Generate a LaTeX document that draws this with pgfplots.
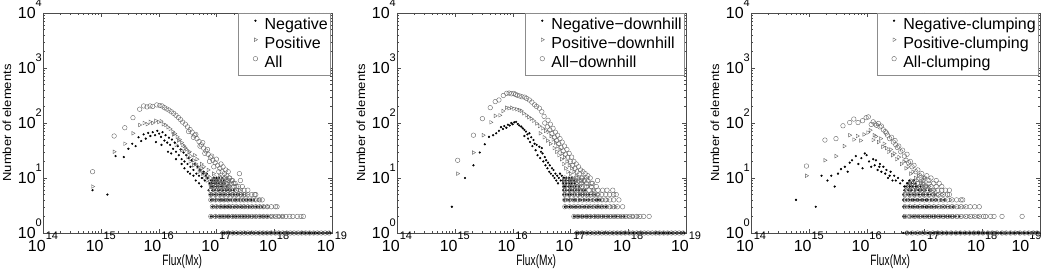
\documentclass[border=0pt]{standalone}
\usepackage{fontspec}
\setmainfont{Liberation Sans}
\usepackage{graphicx}
\usepackage{pgfplots}
\pgfplotsset{compat=1.18}
\newcommand\pw[1]{{\fontsize{16}{16}\selectfont 10\raisebox{0.72em}{\fontsize{11}{11}\selectfont #1}}}
\newcommand\xl{\scalebox{0.68}[1]{\fontsize{15}{15}\selectfont Flux(Mx)}}
\newcommand\yl{\scalebox{1}[0.9]{\fontsize{13}{13}\selectfont Number of elements}}
\newcommand\lidot{\path (0pt,0pt) (24pt,0pt); \draw[black, only marks, mark=*, mark size=0.9pt] plot coordinates {(15pt,4.5pt)};}
\newcommand\litri{\path (0pt,0pt) (24pt,0pt); \draw[black!60, only marks, mark=triangle, mark size=2.1pt, mark options={rotate=-90, line width=0.4pt}] plot coordinates {(15pt,4.5pt)};}
\newcommand\licirc{\path (0pt,0pt) (24pt,0pt); \draw[black!60, only marks, mark=o, mark size=2.3pt, mark options={line width=0.4pt}] plot coordinates {(15pt,4.5pt)};}
\begin{document}
\begin{tikzpicture}
\path[use as bounding box] (-43pt,-39pt) rectangle (1014pt,233pt);
% ---------------- Panel 1 ----------------
\begin{axis}[at={(0pt,0pt)},
    xmode=log, ymode=log, scale only axis, width=289pt, height=220pt,
    xmin=1e14, xmax=1e19, ymin=1, ymax=1e4,
    xtick={1e14,1e15,1e16,1e17,1e18,1e19},
    xticklabels={\pw{14},\pw{15},\pw{16},\pw{17},\pw{18},\pw{19}},
    ytick={1,10,100,1000,10000},
    yticklabels={\pw{0},\pw{1},\pw{2},\pw{3},\pw{4}},
    tick align=inside, major tick length=4pt, minor tick length=2pt,
    axis line style={black!70}, tick style={black!70},
    xticklabel style={inner sep=0pt, yshift=1pt},
    yticklabel style={inner xsep=1pt, inner ysep=0pt, yshift=4pt},
    xlabel={\xl}, ylabel={\yl},
    xlabel style={at={(axis description cs:0.482,-0.132)}, anchor=center},
    ylabel style={at={(axis description cs:-0.125,0.5)}, anchor=center},
    legend cell align=left,
    legend style={at={(0.993,1)}, anchor=north east,
      draw=black!45, fill=white, font=\fontsize{16}{16}\selectfont,
      inner xsep=2pt, inner ysep=4pt, row sep=3pt,
      nodes={inner xsep=0pt, inner ysep=0pt, text height=12.5pt, text depth=3.5pt}},
    legend entries={Negative,Positive,All}]
\addplot[only marks, mark=*, mark size=0.9pt, black, legend image code/.code={\lidot}] coordinates {
(7.2e14,6) (1.3e15,5) (1.8e15,25) (2.5e15,24) (3.0e15,34) (3.5e15,42) (4.0e15,38) (4.5e15,55) (5.0e15,47) (5.5e15,62) (6.0e15,52) (6.6e15,66) (7.2e15,58) (7.9e15,68) (8.7e15,60) (9.5e15,72) (1.02e16,64) (1.1e16,56) (1.17e16,68) (1.26e16,48) (1.32e16,60) (1.41e16,44) (1.51e16,54) (1.58e16,40) (1.7e16,50) (1.78e16,34) (1.9e16,44) (2.0e16,30) (2.14e16,38) (2.24e16,26) (2.4e16,33) (2.5e16,22) (2.7e16,29) (2.8e16,20) (3.0e16,26) (3.16e16,18) (3.3e16,23) (3.55e16,16) (3.7e16,21) (4.0e16,14) (4.2e16,18) (4.5e16,12) (4.7e16,16) (5.0e16,11) (5.2e16,14) (5.6e16,10) (5.9e16,12) (6.3e16,9) (6.6e16,11) (7.1e16,10) (7.6e16,8) (8.1e16,9) (8.7e16,7)
(9.0e15,45) (1.12e16,40) (1.45e16,30) (1.65e16,28) (2.0e16,22) (2.5e16,18) (2.8e16,15) (3.2e16,13) (3.5e16,12) (4.0e16,11) (4.4e16,9) (5.0e16,8) (5.5e16,7) (6.0e16,13) (6.8e16,12) (7.3e16,6)
(9.1e16,10) (1.0e17,10) (1.12e17,10) (1.26e17,10)
(8.5e16,9) (9.5e16,9) (1.05e17,9) (1.2e17,9) (1.35e17,9)
(8.3e16,8) (9.2e16,8) (1.0e17,8) (1.1e17,8) (1.25e17,8) (1.4e17,8)
(8.0e16,7) (9.0e16,7) (1.0e17,7) (1.1e17,7) (1.2e17,7) (1.3e17,7) (1.5e17,7)
(8.5e16,6) (9.5e16,6) (1.05e17,6) (1.15e17,6) (1.3e17,6) (1.45e17,6) (1.6e17,6) (1.8e17,6) (2.0e17,6)
(7.8e16,5) (8.6e16,5) (9.5e16,5) (1.05e17,5) (1.15e17,5) (1.25e17,5) (1.35e17,5) (1.5e17,5) (1.65e17,5) (1.8e17,5) (2.0e17,5) (2.2e17,5) (2.5e17,5) (2.9e17,5)
(8.0e16,4) (8.8e16,4) (9.6e16,4) (1.05e17,4) (1.15e17,4) (1.25e17,4) (1.35e17,4) (1.5e17,4) (1.65e17,4) (1.8e17,4) (2.0e17,4) (2.2e17,4) (2.5e17,4) (2.8e17,4) (3.1e17,4) (3.5e17,4) (4.0e17,4) (4.5e17,4)
(8.5e16,3) (9.3e16,3) (1.0e17,3) (1.1e17,3) (1.2e17,3) (1.3e17,3) (1.4e17,3) (1.5e17,3) (1.6e17,3) (1.7e17,3) (1.8e17,3) (2.0e17,3) (2.2e17,3) (2.4e17,3) (2.6e17,3) (2.8e17,3) (3.0e17,3) (3.3e17,3) (3.6e17,3) (4.0e17,3) (4.4e17,3) (4.9e17,3) (5.5e17,3) (6.2e17,3)
(8.0e16,2) (8.8e16,2) (9.6e16,2) (1.05e17,2) (1.15e17,2) (1.25e17,2) (1.35e17,2) (1.45e17,2) (1.55e17,2) (1.65e17,2) (1.75e17,2) (1.9e17,2) (2.05e17,2) (2.2e17,2) (2.4e17,2) (2.6e17,2) (2.8e17,2) (3.0e17,2) (3.3e17,2) (3.6e17,2) (3.9e17,2) (4.3e17,2) (4.7e17,2) (5.2e17,2) (5.7e17,2) (6.3e17,2) (7.0e17,2) (7.7e17,2)
(1.3e17,1) (1.35e17,1) (1.4e17,1) (1.45e17,1) (1.5e17,1) (1.6e17,1) (1.7e17,1) (1.8e17,1) (1.9e17,1) (2.0e17,1) (2.1e17,1) (2.2e17,1) (2.3e17,1) (2.4e17,1) (2.5e17,1) (2.6e17,1) (2.8e17,1) (3.0e17,1) (3.2e17,1) (3.4e17,1) (3.6e17,1) (3.8e17,1) (4.0e17,1) (4.2e17,1) (4.4e17,1) (4.7e17,1) (5.0e17,1) (5.3e17,1) (5.6e17,1) (6.0e17,1) (6.3e17,1) (6.7e17,1) (7.1e17,1) (7.5e17,1) (8.0e17,1) (8.5e17,1) (9.0e17,1) (9.5e17,1) (1.0e18,1) (1.05e18,1) (1.1e18,1) (1.15e18,1) (1.2e18,1) (1.25e18,1) (1.3e18,1) (1.4e18,1) (1.5e18,1) (1.6e18,1) (1.7e18,1) (1.8e18,1) (1.9e18,1) (2.0e18,1) (2.1e18,1) (2.2e18,1) (2.4e18,1) (2.6e18,1) (2.8e18,1) (3.0e18,1) (3.2e18,1) (3.4e18,1) (3.6e18,1) (3.8e18,1) (4.0e18,1) (4.2e18,1) (4.4e18,1) (4.7e18,1) (5.0e18,1) (5.3e18,1) (5.6e18,1) (6.0e18,1) (6.3e18,1) (6.7e18,1) (7.1e18,1) (7.5e18,1) (8.0e18,1) (8.5e18,1) (9.0e18,1) (9.5e18,1)
};
\addplot[only marks, mark=triangle, mark size=2.1pt, black!60, mark options={rotate=-90, line width=0.4pt}, legend image code/.code={\litri}] coordinates {
(7.2e14,7) (1.7e15,30) (2.6e15,42) (3.6e15,65) (4.7e15,92) (5.6e15,100) (6.3e15,95) (7.1e15,105) (7.9e15,100) (8.9e15,110) (1.0e16,104) (1.1e16,108) (1.2e16,95) (1.32e16,92) (1.45e16,84) (1.58e16,78) (1.74e16,70) (1.9e16,64) (2.1e16,56) (2.3e16,50) (2.5e16,44) (2.75e16,38) (3.0e16,33) (3.3e16,29) (3.6e16,25) (4.0e16,21) (4.4e16,18) (4.8e16,16) (5.2e16,14) (5.8e16,12) (6.3e16,10) (6.9e16,9) (7.6e16,8) (8.3e16,7)
(2.0e16,40) (2.5e16,32) (3.2e16,24) (3.5e16,20) (4.0e16,17) (5.0e16,13) (5.6e16,15) (6.3e16,12) (7.0e16,11) (8.0e16,10) (8.9e16,12) (1.0e17,9) (1.12e17,11) (1.26e17,8) (1.4e17,10) (1.6e17,7)
(1.8e16,62) (2.2e16,48) (2.6e16,40) (2.9e16,35) (3.4e16,30) (4.2e16,26) (4.6e16,22) (5.5e16,18) (6.0e16,16) (7.2e16,14)
(9.0e16,9) (1.1e17,9) (1.3e17,9) (1.5e17,9)
(9.5e16,8) (1.15e17,8) (1.35e17,8) (1.6e17,8)
(8.5e16,7) (1.05e17,7) (1.25e17,7) (1.45e17,7) (1.7e17,7)
(9.0e16,6) (1.1e17,6) (1.3e17,6) (1.5e17,6) (1.75e17,6) (2.1e17,6) (2.5e17,6)
(8.2e16,5) (1.0e17,5) (1.2e17,5) (1.4e17,5) (1.7e17,5) (2.0e17,5) (2.4e17,5) (2.8e17,5) (3.3e17,5)
(8.4e16,4) (1.0e17,4) (1.2e17,4) (1.4e17,4) (1.6e17,4) (1.9e17,4) (2.2e17,4) (2.6e17,4) (3.0e17,4) (3.5e17,4) (4.1e17,4) (4.8e17,4) (5.5e17,4)
(9.0e16,3) (1.05e17,3) (1.2e17,3) (1.4e17,3) (1.6e17,3) (1.8e17,3) (2.1e17,3) (2.4e17,3) (2.8e17,3) (3.2e17,3) (3.7e17,3) (4.3e17,3) (5.0e17,3) (5.8e17,3) (6.7e17,3) (7.8e17,3)
(8.4e16,2) (1.0e17,2) (1.15e17,2) (1.3e17,2) (1.5e17,2) (1.7e17,2) (1.95e17,2) (2.2e17,2) (2.5e17,2) (2.9e17,2) (3.3e17,2) (3.8e17,2) (4.4e17,2) (5.0e17,2) (5.8e17,2) (6.7e17,2) (7.7e17,2) (8.9e17,2) (1.0e18,2) (1.2e18,2) (1.4e18,2)
(1.4e17,1) (1.7e17,1) (2.0e17,1) (2.4e17,1) (2.8e17,1) (3.3e17,1) (3.9e17,1) (4.6e17,1) (5.5e17,1) (6.5e17,1) (7.6e17,1) (8.9e17,1) (1.05e18,1) (1.25e18,1) (1.5e18,1) (1.8e18,1) (2.1e18,1) (2.5e18,1) (3.0e18,1) (3.5e18,1) (4.2e18,1) (5.0e18,1) (6.0e18,1) (7.1e18,1) (8.5e18,1)
};
\addplot[only marks, mark=o, mark size=2.3pt, black!60, mark options={line width=0.4pt}, legend image code/.code={\licirc}] coordinates {
(7.2e14,13) (1.7e15,58) (2.6e15,82) (3.6e15,125) (4.7e15,178) (5.5e15,204) (6.3e15,196) (7.1e15,204) (7.9e15,200) (9.3e15,213) (1.05e16,208) (1.15e16,204) (1.26e16,190) (1.38e16,180) (1.51e16,172) (1.66e16,160) (1.82e16,150) (2.0e16,138) (2.2e16,126) (2.4e16,115) (2.6e16,104) (2.9e16,95) (3.16e16,85) (3.5e16,76) (3.8e16,68) (4.2e16,60) (4.6e16,52) (5.0e16,46) (5.5e16,40) (6.0e16,35) (6.6e16,31) (7.2e16,27) (7.9e16,24) (8.7e16,21) (9.5e16,19) (1.05e17,17) (1.15e17,15) (1.26e17,13) (1.38e17,12) (1.51e17,11) (1.66e17,10) (1.82e17,9) (2.0e17,8)
(3.3e16,70) (4.0e16,55) (4.4e16,62) (5.2e16,38) (5.8e16,44) (6.3e16,28) (7.0e16,33) (7.6e16,20) (8.3e16,25) (9.0e16,16) (1.0e17,22) (1.1e17,13) (1.2e17,18) (1.3e17,16) (1.45e17,14) (1.6e17,13) (2.5e17,12) (2.2e17,7) (2.6e17,9) (4.6e17,5)
(9.5e16,10) (1.15e17,10) (1.4e17,10) (1.7e17,10)
(9.0e16,9) (1.1e17,9) (1.3e17,9) (1.6e17,9) (1.9e17,9)
(8.6e16,8) (1.05e17,8) (1.25e17,8) (1.5e17,8) (1.8e17,8) (2.1e17,8)
(8.2e16,7) (1.0e17,7) (1.2e17,7) (1.4e17,7) (1.65e17,7) (2.0e17,7) (2.4e17,7) (2.8e17,7)
(8.0e16,6) (9.6e16,6) (1.15e17,6) (1.35e17,6) (1.6e17,6) (1.9e17,6) (2.2e17,6) (2.6e17,6) (3.0e17,6) (3.5e17,6)
(8.0e16,5) (9.6e16,5) (1.15e17,5) (1.35e17,5) (1.6e17,5) (1.9e17,5) (2.2e17,5) (2.6e17,5) (3.0e17,5) (3.5e17,5) (4.1e17,5) (4.8e17,5)
(8.0e16,4) (9.6e16,4) (1.15e17,4) (1.35e17,4) (1.6e17,4) (1.9e17,4) (2.2e17,4) (2.6e17,4) (3.0e17,4) (3.5e17,4) (4.1e17,4) (4.8e17,4) (5.6e17,4) (6.2e17,4)
(8.5e16,3) (1.0e17,3) (1.2e17,3) (1.4e17,3) (1.65e17,3) (1.9e17,3) (2.2e17,3) (2.6e17,3) (3.0e17,3) (3.5e17,3) (4.1e17,3) (4.8e17,3) (5.6e17,3) (6.5e17,3) (7.6e17,3) (8.9e17,3) (1.05e18,3) (1.12e18,3)
(8.0e16,2) (9.6e16,2) (1.15e17,2) (1.35e17,2) (1.6e17,2) (1.9e17,2) (2.2e17,2) (2.6e17,2) (3.0e17,2) (3.5e17,2) (4.1e17,2) (4.8e17,2) (5.6e17,2) (6.5e17,2) (7.6e17,2) (8.9e17,2) (1.05e18,2) (1.2e18,2) (1.4e18,2) (1.6e18,2) (1.85e18,2) (2.1e18,2) (2.5e18,2) (2.9e18,2) (3.2e18,2)
(1.3e17,1) (1.6e17,1) (1.9e17,1) (2.2e17,1) (2.6e17,1) (3.0e17,1) (3.5e17,1) (4.1e17,1) (4.8e17,1) (5.6e17,1) (6.5e17,1) (7.6e17,1) (8.9e17,1) (1.05e18,1) (1.2e18,1) (1.4e18,1) (1.65e18,1) (1.9e18,1) (2.2e18,1) (2.6e18,1) (3.0e18,1) (3.5e18,1) (4.1e18,1) (4.8e18,1) (5.6e18,1) (6.5e18,1) (7.6e18,1) (8.9e18,1)
};
\end{axis}
% ---------------- Panel 2 ----------------
\begin{axis}[at={(354pt,0pt)},
    xmode=log, ymode=log, scale only axis, width=289pt, height=220pt,
    xmin=1e14, xmax=1e19, ymin=1, ymax=1e4,
    xtick={1e14,1e15,1e16,1e17,1e18,1e19},
    xticklabels={\pw{14},\pw{15},\pw{16},\pw{17},\pw{18},\pw{19}},
    ytick={1,10,100,1000,10000},
    yticklabels={\pw{0},\pw{1},\pw{2},\pw{3},\pw{4}},
    tick align=inside, major tick length=4pt, minor tick length=2pt,
    axis line style={black!70}, tick style={black!70},
    xticklabel style={inner sep=0pt, yshift=1pt},
    yticklabel style={inner xsep=1pt, inner ysep=0pt, yshift=4pt},
    xlabel={\xl}, ylabel={\yl},
    xlabel style={at={(axis description cs:0.482,-0.132)}, anchor=center},
    ylabel style={at={(axis description cs:-0.125,0.5)}, anchor=center},
    legend cell align=left,
    legend style={at={(0.993,1)}, anchor=north east,
      draw=black!45, fill=white, font=\fontsize{16}{16}\selectfont,
      inner xsep=2pt, inner ysep=4pt, row sep=3pt,
      nodes={inner xsep=0pt, inner ysep=0pt, text height=12.5pt, text depth=3.5pt}},
    legend entries={Negative−downhill,Positive−downhill,All−downhill}]
\addplot[only marks, mark=*, mark size=0.9pt, black, legend image code/.code={\lidot}] coordinates {
(8.9e14,3) (1.5e15,10) (2.1e15,17) (2.7e15,29) (3.3e15,41) (3.9e15,56) (4.6e15,60) (5.2e15,65) (6.3e15,84) (7.2e15,88) (8.3e15,93) (9.5e15,100) (1.07e16,103) (1.23e16,96) (1.41e16,86)
(5.8e15,72) (6.8e15,78) (7.8e15,82) (8.9e15,90) (1.0e16,95) (1.15e16,105) (1.3e16,90) (1.5e16,80) (1.6e16,75)
(1.7e16,70) (1.8e16,62) (1.95e16,65) (2.1e16,55) (2.3e16,49) (2.4e16,42) (2.6e16,40) (2.9e16,37) (3.1e16,30) (3.3e16,28) (3.6e16,24) (3.8e16,21) (4.1e16,19) (4.4e16,17) (4.8e16,15) (5.1e16,14) (5.5e16,12) (5.9e16,11) (6.3e16,10) (6.8e16,9) (7.4e16,8) (8.0e16,7)
(1.6e16,58) (1.85e16,52) (2.0e16,45) (2.2e16,38) (2.5e16,32) (2.7e16,26) (3.0e16,23) (3.4e16,20) (3.2e16,35) (3.7e16,17) (4.0e16,15) (4.3e16,13) (4.6e16,12) (5.0e16,11) (5.3e16,10) (5.7e16,9) (6.1e16,8) (6.6e16,12) (7.1e16,11) (7.8e16,10)
(7.6e16,10) (8.5e16,10) (9.5e16,10) (1.05e17,10)
(7.3e16,9) (8.2e16,9) (9.2e16,9) (1.02e17,9) (1.15e17,9)
(7.5e16,8) (8.4e16,8) (9.4e16,8) (1.05e17,8) (1.18e17,8)
(7.5e16,7) (8.3e16,7) (9.2e16,7) (1.02e17,7) (1.12e17,7) (1.25e17,7) (1.4e17,7)
(7.5e16,6) (8.3e16,6) (9.2e16,6) (1.02e17,6) (1.12e17,6) (1.25e17,6) (1.4e17,6) (1.6e17,6) (1.8e17,6)
(7.5e16,5) (8.3e16,5) (9.2e16,5) (1.02e17,5) (1.12e17,5) (1.25e17,5) (1.4e17,5) (1.55e17,5) (1.7e17,5) (1.9e17,5) (2.1e17,5) (2.4e17,5) (2.7e17,5)
(7.8e16,4) (8.6e16,4) (9.5e16,4) (1.05e17,4) (1.15e17,4) (1.25e17,4) (1.4e17,4) (1.55e17,4) (1.7e17,4) (1.9e17,4) (2.1e17,4) (2.4e17,4) (2.7e17,4) (3.0e17,4) (3.3e17,4)
(8.0e16,3) (8.8e16,3) (9.6e16,3) (1.05e17,3) (1.15e17,3) (1.25e17,3) (1.35e17,3) (1.5e17,3) (1.65e17,3) (1.8e17,3) (2.0e17,3) (2.2e17,3) (2.4e17,3) (2.7e17,3) (3.0e17,3) (3.3e17,3) (3.7e17,3) (4.1e17,3)
(1.15e17,2) (1.25e17,2) (1.35e17,2) (1.45e17,2) (1.55e17,2) (1.7e17,2) (1.85e17,2) (2.0e17,2) (2.2e17,2) (2.4e17,2) (2.6e17,2) (2.8e17,2) (3.0e17,2) (3.3e17,2) (3.6e17,2) (3.9e17,2) (4.3e17,2) (4.7e17,2) (5.2e17,2) (5.7e17,2) (6.3e17,2) (7.0e17,2) (7.7e17,2) (8.5e17,2)
(1.3e17,1) (1.35e17,1) (1.4e17,1) (1.45e17,1) (1.5e17,1) (1.6e17,1) (1.7e17,1) (1.8e17,1) (1.9e17,1) (2.0e17,1) (2.1e17,1) (2.2e17,1) (2.3e17,1) (2.4e17,1) (2.5e17,1) (2.6e17,1) (2.8e17,1) (3.0e17,1) (3.2e17,1) (3.4e17,1) (3.6e17,1) (3.8e17,1) (4.0e17,1) (4.2e17,1) (4.4e17,1) (4.7e17,1) (5.0e17,1) (5.3e17,1) (5.6e17,1) (6.0e17,1) (6.3e17,1) (6.7e17,1) (7.1e17,1) (7.5e17,1) (8.0e17,1) (8.5e17,1) (9.0e17,1) (9.5e17,1) (1.0e18,1) (1.05e18,1) (1.1e18,1) (1.15e18,1) (1.2e18,1) (1.25e18,1) (1.3e18,1) (1.4e18,1) (1.5e18,1) (1.6e18,1) (1.7e18,1) (1.8e18,1) (1.9e18,1) (2.0e18,1) (2.1e18,1) (2.2e18,1) (2.4e18,1) (2.6e18,1) (2.8e18,1) (3.0e18,1) (3.2e18,1) (3.4e18,1) (3.6e18,1) (3.8e18,1) (4.0e18,1) (4.2e18,1) (4.4e18,1) (4.7e18,1) (5.0e18,1) (5.3e18,1) (5.6e18,1) (6.0e18,1) (6.3e18,1) (6.7e18,1) (7.1e18,1) (7.5e18,1) (8.0e18,1) (8.5e18,1) (9.0e18,1) (9.5e18,1)
};
\addplot[only marks, mark=triangle, mark size=2.1pt, black!60, mark options={rotate=-90, line width=0.4pt}, legend image code/.code={\litri}] coordinates {
(1.12e15,12) (2.1e15,29) (3.1e15,60) (4.2e15,103) (5.0e15,135) (6.0e15,138) (7.8e15,190) (9.5e15,190) (1.17e16,178) (1.41e16,167) (1.74e16,138) (2.1e16,120) (2.6e16,98) (3.3e16,80) (4.1e16,69)
(6.8e15,165) (8.6e15,185) (1.05e16,182) (1.3e16,172) (1.55e16,150) (1.9e16,128) (2.3e16,110) (2.9e16,88) (3.7e16,72)
(4.6e16,58) (5.0e16,50) (5.5e16,44) (6.0e16,38) (6.6e16,33) (7.2e16,28) (7.9e16,24) (8.7e16,20) (9.5e16,17) (1.05e17,15) (1.15e17,13) (1.26e17,11) (1.38e17,10) (1.5e17,9) (1.65e17,8)
(3.0e16,65) (3.5e16,55) (4.0e16,48) (4.5e16,42) (5.2e16,35) (5.8e16,30) (6.3e16,26) (7.0e16,22) (7.6e16,18) (8.3e16,15) (9.0e16,13) (1.0e17,12) (1.1e17,10) (1.2e17,9) (2.0e17,7) (2.5e17,6)
(8.0e16,9) (1.0e17,9) (1.25e17,9)
(8.5e16,8) (1.05e17,8) (1.3e17,8)
(8.0e16,7) (1.0e17,7) (1.2e17,7) (1.45e17,7)
(8.0e16,6) (1.0e17,6) (1.2e17,6) (1.45e17,6) (1.75e17,6)
(8.0e16,5) (1.0e17,5) (1.2e17,5) (1.45e17,5) (1.75e17,5) (2.1e17,5) (2.5e17,5) (3.0e17,5)
(8.2e16,4) (1.0e17,4) (1.2e17,4) (1.45e17,4) (1.75e17,4) (2.1e17,4) (2.5e17,4) (3.0e17,4) (3.6e17,4) (4.3e17,4)
(8.5e16,3) (1.05e17,3) (1.25e17,3) (1.5e17,3) (1.8e17,3) (2.1e17,3) (2.5e17,3) (3.0e17,3) (3.6e17,3) (4.3e17,3) (5.1e17,3) (6.0e17,3)
(1.2e17,2) (1.4e17,2) (1.65e17,2) (1.95e17,2) (2.3e17,2) (2.7e17,2) (3.2e17,2) (3.8e17,2) (4.5e17,2) (5.3e17,2) (6.2e17,2) (7.3e17,2) (8.6e17,2) (1.0e18,2) (1.2e18,2) (1.45e18,2)
(1.4e17,1) (1.7e17,1) (2.0e17,1) (2.4e17,1) (2.8e17,1) (3.3e17,1) (3.9e17,1) (4.6e17,1) (5.5e17,1) (6.5e17,1) (7.6e17,1) (8.9e17,1) (1.05e18,1) (1.25e18,1) (1.5e18,1) (1.8e18,1) (2.1e18,1) (2.5e18,1) (3.0e18,1) (3.5e18,1) (4.2e18,1) (5.0e18,1) (6.0e18,1) (7.1e18,1) (8.5e18,1)
};
\addplot[only marks, mark=o, mark size=2.3pt, black!60, mark options={line width=0.4pt}, legend image code/.code={\licirc}] coordinates {
(1.12e15,21) (2.1e15,60) (3.0e15,120) (4.1e15,190) (5.0e15,245) (5.8e15,262) (6.9e15,316) (7.9e15,347) (9.5e15,340) (1.12e16,330) (1.32e16,310) (1.62e16,295) (1.95e16,262) (2.4e16,214) (2.9e16,186) (3.5e16,132) (4.1e16,112)
(8.7e15,350) (1.05e16,345) (1.2e16,320) (1.45e16,300) (1.75e16,280) (2.15e16,240) (2.6e16,200) (3.2e16,160)
(4.5e16,95) (5.0e16,80) (5.5e16,68) (6.0e16,60) (6.6e16,52) (7.2e16,45) (7.9e16,38) (8.7e16,33) (9.5e16,28) (1.05e17,24) (1.15e17,20) (1.26e17,18) (1.38e17,16) (1.5e17,14) (1.65e17,13) (1.8e17,12) (2.0e17,11) (2.2e17,10) (2.95e17,9) (5.4e17,6) (5.6e17,5)
(3.6e16,100) (4.0e16,85) (4.4e16,75) (4.8e16,64) (5.3e16,55) (5.8e16,48) (6.3e16,42) (6.9e16,36) (7.5e16,31) (8.2e16,27) (9.0e16,24) (1.0e17,20) (1.1e17,17) (1.2e17,15) (1.3e17,13) (1.45e17,12) (1.6e17,10) (1.75e17,9) (2.4e17,8)
(8.0e16,10) (1.0e17,10) (1.25e17,10) (1.55e17,10) (1.9e17,10)
(8.0e16,9) (1.0e17,9) (1.25e17,9) (1.55e17,9) (2.0e17,9)
(8.0e16,8) (1.0e17,8) (1.25e17,8) (1.55e17,8) (1.9e17,8) (2.3e17,8)
(8.0e16,7) (1.0e17,7) (1.25e17,7) (1.55e17,7) (1.9e17,7) (2.3e17,7) (2.8e17,7)
(8.0e16,6) (1.0e17,6) (1.2e17,6) (1.45e17,6) (1.75e17,6) (2.1e17,6) (2.5e17,6) (3.0e17,6) (3.6e17,6) (4.3e17,6)
(8.0e16,5) (9.6e16,5) (1.15e17,5) (1.35e17,5) (1.6e17,5) (1.9e17,5) (2.2e17,5) (2.6e17,5) (3.0e17,5) (3.5e17,5) (4.1e17,5) (4.8e17,5) (6.2e17,5)
(8.0e16,4) (9.6e16,4) (1.15e17,4) (1.35e17,4) (1.6e17,4) (1.9e17,4) (2.2e17,4) (2.6e17,4) (3.0e17,4) (3.5e17,4) (4.1e17,4) (4.8e17,4) (5.6e17,4) (6.9e17,4)
(8.0e16,3) (9.6e16,3) (1.15e17,3) (1.35e17,3) (1.6e17,3) (1.9e17,3) (2.2e17,3) (2.6e17,3) (3.0e17,3) (3.5e17,3) (4.1e17,3) (4.8e17,3) (5.6e17,3) (6.5e17,3) (8.0e17,3)
(1.15e17,2) (1.35e17,2) (1.6e17,2) (1.9e17,2) (2.2e17,2) (2.6e17,2) (3.0e17,2) (3.5e17,2) (4.1e17,2) (4.8e17,2) (5.6e17,2) (6.5e17,2) (7.6e17,2) (8.9e17,2) (1.05e18,2) (1.2e18,2) (1.4e18,2) (1.6e18,2) (1.85e18,2) (2.3e18,2)
(1.3e17,1) (1.6e17,1) (1.9e17,1) (2.2e17,1) (2.6e17,1) (3.0e17,1) (3.5e17,1) (4.1e17,1) (4.8e17,1) (5.6e17,1) (6.5e17,1) (7.6e17,1) (8.9e17,1) (1.05e18,1) (1.2e18,1) (1.4e18,1) (1.65e18,1) (1.9e18,1) (2.2e18,1) (2.6e18,1) (3.0e18,1) (3.5e18,1) (4.1e18,1) (4.8e18,1) (5.6e18,1) (6.5e18,1) (7.6e18,1) (8.9e18,1)
};
\end{axis}
% ---------------- Panel 3 ----------------
\begin{axis}[at={(708pt,0pt)},
    xmode=log, ymode=log, scale only axis, width=289pt, height=220pt,
    xmin=1e14, xmax=1e19, ymin=1, ymax=1e4,
    xtick={1e14,1e15,1e16,1e17,1e18,1e19},
    xticklabels={\pw{14},\pw{15},\pw{16},\pw{17},\pw{18},\pw{19}\hspace*{27pt}},
    ytick={1,10,100,1000,10000},
    yticklabels={\pw{0},\pw{1},\pw{2},\pw{3},\pw{4}},
    tick align=inside, major tick length=4pt, minor tick length=2pt,
    axis line style={black!70}, tick style={black!70},
    xticklabel style={inner sep=0pt, yshift=1pt},
    yticklabel style={inner xsep=1pt, inner ysep=0pt, yshift=4pt},
    xlabel={\xl}, ylabel={\yl},
    xlabel style={at={(axis description cs:0.482,-0.132)}, anchor=center},
    ylabel style={at={(axis description cs:-0.125,0.5)}, anchor=center},
    legend cell align=left,
    legend style={at={(0.993,1)}, anchor=north east,
      draw=black!45, fill=white, font=\fontsize{16}{16}\selectfont,
      inner xsep=2pt, inner ysep=4pt, row sep=3pt,
      nodes={inner xsep=0pt, inner ysep=0pt, text height=12.5pt, text depth=3.5pt}},
    legend entries={Negative-clumping,Positive-clumping,All-clumping}]
\addplot[only marks, mark=*, mark size=0.9pt, black, legend image code/.code={\lidot}] coordinates {
(6.0e14,4) (1.32e15,3) (1.66e15,11) (2.1e15,9) (2.45e15,11) (2.8e15,7) (3.2e15,12) (3.6e15,14.5) (4.2e15,16) (5.1e15,19) (5.6e15,21) (6.5e15,25) (8.1e15,23) (9.3e15,28) (1.38e16,17) (1.66e16,16) (2.5e16,11)
(4.7e15,13) (7.2e15,18) (8.5e15,15) (1.0e16,26) (1.1e16,20) (1.2e16,16) (1.3e16,22) (1.45e16,21) (1.55e16,14) (1.7e16,18) (1.8e16,13) (1.95e16,16) (2.1e16,12) (2.2e16,14) (2.35e16,10) (2.6e16,13) (2.8e16,9) (3.0e16,11) (3.2e16,9) (3.5e16,10) (3.8e16,8) (4.2e16,9) (4.5e16,7) (5.0e16,8) (5.5e16,7) (6.0e16,6) (7.0e16,7)
(5.5e16,9) (6.5e16,9)
(5.2e16,8) (6.0e16,8) (7.0e16,8)
(4.8e16,7) (5.6e16,7) (6.3e16,7) (7.4e16,7) (8.5e16,7)
(4.5e16,6) (5.2e16,6) (6.0e16,6) (6.8e16,6) (7.8e16,6) (9.0e16,6) (1.05e17,6) (1.2e17,6)
(4.3e16,5) (5.0e16,5) (5.6e16,5) (6.3e16,5) (7.0e16,5) (8.0e16,5) (9.0e16,5) (1.0e17,5) (1.15e17,5) (1.3e17,5) (1.5e17,5)
(4.3e16,4) (4.8e16,4) (5.5e16,4) (6.0e16,4) (6.6e16,4) (7.2e16,4) (8.0e16,4) (8.8e16,4) (9.6e16,4) (1.05e17,4) (1.15e17,4) (1.3e17,4) (1.45e17,4) (1.65e17,4) (1.9e17,4) (2.2e17,4)
(4.3e16,3) (4.7e16,3) (5.5e16,3) (6.0e16,3) (6.6e16,3) (7.2e16,3) (8.0e16,3) (8.8e16,3) (9.6e16,3) (1.05e17,3) (1.15e17,3) (1.25e17,3) (1.4e17,3) (1.55e17,3) (1.7e17,3) (1.9e17,3) (2.1e17,3) (2.4e17,3) (2.7e17,3) (3.1e17,3)
(4.3e16,2) (4.7e16,2) (5.8e16,2) (6.3e16,2) (6.9e16,2) (7.5e16,2) (8.2e16,2) (9.0e16,2) (9.8e16,2) (1.07e17,2) (1.17e17,2) (1.27e17,2) (1.38e17,2) (1.5e17,2) (1.65e17,2) (1.8e17,2) (2.0e17,2) (2.2e17,2) (2.4e17,2) (2.6e17,2) (2.9e17,2) (3.2e17,2) (3.5e17,2) (4.0e17,2)
(4.3e16,1) (4.7e16,1) (5.3e16,1) (5.6e16,1) (6.0e16,1) (6.3e16,1) (6.7e16,1) (7.1e16,1) (7.5e16,1) (8.0e16,1) (8.5e16,1) (9.0e16,1) (9.5e16,1) (1.0e17,1) (1.05e17,1) (1.1e17,1) (1.15e17,1) (1.2e17,1) (1.25e17,1) (1.3e17,1) (1.35e17,1) (1.4e17,1) (1.45e17,1) (1.5e17,1) (1.6e17,1) (1.7e17,1) (1.8e17,1) (1.9e17,1) (2.0e17,1) (2.1e17,1) (2.2e17,1) (2.3e17,1) (2.4e17,1) (2.5e17,1) (2.6e17,1) (2.8e17,1) (3.0e17,1) (3.2e17,1) (3.4e17,1) (3.6e17,1) (3.8e17,1) (4.0e17,1) (4.2e17,1) (4.4e17,1) (4.7e17,1) (5.0e17,1) (5.3e17,1) (5.6e17,1) (6.0e17,1) (6.3e17,1) (6.7e17,1) (7.1e17,1) (7.5e17,1) (8.0e17,1) (8.5e17,1) (9.0e17,1) (9.5e17,1) (1.0e18,1) (1.05e18,1) (1.1e18,1) (1.15e18,1) (1.2e18,1) (1.25e18,1) (1.3e18,1) (1.4e18,1) (1.5e18,1) (1.6e18,1) (1.7e18,1) (1.8e18,1) (1.9e18,1) (2.0e18,1) (2.1e18,1) (2.2e18,1) (2.4e18,1) (2.6e18,1) (2.8e18,1) (3.0e18,1) (3.2e18,1) (3.4e18,1) (3.6e18,1) (3.8e18,1) (4.0e18,1) (4.2e18,1) (4.4e18,1) (4.7e18,1) (5.0e18,1) (5.3e18,1) (5.6e18,1) (6.0e18,1) (6.3e18,1) (6.7e18,1) (7.1e18,1) (7.5e18,1) (8.0e18,1) (8.5e18,1) (9.0e18,1) (9.5e18,1)
};
\addplot[only marks, mark=triangle, mark size=2.1pt, black!60, mark options={rotate=-90, line width=0.4pt}, legend image code/.code={\litri}] coordinates {
(9.1e14,11) (1.9e15,21) (2.95e15,25) (4.1e15,38) (5.1e15,60) (6.0e15,50) (6.9e15,58) (7.9e15,48) (1.05e16,67) (1.29e16,49) (1.45e16,57) (1.9e16,37)
(9.0e15,62) (1.15e16,74) (1.35e16,60) (1.6e16,45) (1.75e16,52) (2.0e16,42) (2.2e16,35) (2.4e16,30) (2.6e16,33) (2.8e16,26) (3.0e16,28) (3.3e16,22) (3.6e16,24) (4.0e16,18) (4.4e16,20) (4.8e16,15) (5.2e16,16) (5.8e16,12) (6.3e16,13) (7.0e16,10) (7.8e16,11) (8.5e16,9) (9.5e16,8) (1.05e17,7) (1.2e17,7) (1.0e17,10) (1.3e17,6)
(6.0e16,9) (7.5e16,9)
(5.5e16,8) (6.8e16,8) (8.5e16,8)
(5.0e16,7) (6.2e16,7) (7.6e16,7) (9.3e16,7) (1.1e17,7)
(4.8e16,6) (5.8e16,6) (7.0e16,6) (8.5e16,6) (1.0e17,6) (1.25e17,6) (1.5e17,6)
(4.5e16,5) (5.5e16,5) (6.6e16,5) (8.0e16,5) (9.6e16,5) (1.15e17,5) (1.4e17,5) (1.7e17,5) (2.0e17,5)
(4.5e16,4) (5.4e16,4) (6.5e16,4) (7.8e16,4) (9.4e16,4) (1.13e17,4) (1.35e17,4) (1.6e17,4) (1.95e17,4) (2.3e17,4) (2.8e17,4)
(4.5e16,3) (5.4e16,3) (6.5e16,3) (7.8e16,3) (9.4e16,3) (1.13e17,3) (1.35e17,3) (1.6e17,3) (1.95e17,3) (2.3e17,3) (2.8e17,3) (3.3e17,3) (4.0e17,3) (4.8e17,3)
(4.5e16,2) (5.4e16,2) (6.5e16,2) (7.8e16,2) (9.4e16,2) (1.13e17,2) (1.35e17,2) (1.6e17,2) (1.95e17,2) (2.3e17,2) (2.8e17,2) (3.3e17,2) (4.0e17,2) (4.8e17,2) (5.8e17,2) (7.0e17,2) (8.5e17,2)
(5.0e16,1) (6.0e16,1) (7.2e16,1) (8.6e16,1) (1.03e17,1) (1.25e17,1) (1.5e17,1) (1.8e17,1) (2.1e17,1) (2.5e17,1) (3.0e17,1) (3.6e17,1) (4.3e17,1) (5.2e17,1) (6.2e17,1) (7.4e17,1) (8.9e17,1) (1.06e18,1) (1.27e18,1) (1.5e18,1) (1.8e18,1) (2.2e18,1) (2.6e18,1) (3.1e18,1) (3.7e18,1) (4.5e18,1) (5.4e18,1) (6.4e18,1) (7.7e18,1) (8.9e18,1)
};
\addplot[only marks, mark=o, mark size=2.3pt, black!60, mark options={line width=0.4pt}, legend image code/.code={\licirc}] coordinates {
(9.1e14,16.5) (1.9e15,49) (2.95e15,52) (3.9e15,89) (5.1e15,102) (6.0e15,118) (7.1e15,102) (8.5e15,110) (9.8e15,125) (1.07e16,129) (1.2e16,94) (1.48e16,91) (1.6e16,98) (2.2e16,66) (3.2e16,40) (4.8e16,21) (9.5e16,9) (1.8e17,8)
(1.3e16,105) (1.4e16,96) (1.7e16,85) (1.8e16,88) (1.95e16,75) (2.1e16,70) (2.3e16,60) (2.5e16,52) (2.7e16,55) (2.9e16,45) (3.1e16,48) (3.4e16,36) (3.6e16,38) (3.9e16,30) (4.2e16,32) (4.5e16,25) (5.0e16,27) (5.3e16,19) (5.7e16,20) (6.1e16,16) (6.6e16,17) (7.1e16,13) (7.7e16,14) (8.3e16,11) (9.0e16,12) (1.0e17,10) (1.1e17,11) (1.2e17,9) (1.3e17,10) (1.45e17,8) (1.6e17,9) (2.0e17,7) (2.3e17,6) (2.7e17,6)
(6.0e16,8) (7.5e16,8) (9.5e16,8) (1.2e17,8)
(5.5e16,7) (7.0e16,7) (8.5e16,7) (1.05e17,7) (1.3e17,7) (1.6e17,7)
(5.0e16,6) (6.2e16,6) (7.6e16,6) (9.3e16,6) (1.13e17,6) (1.4e17,6) (1.7e17,6) (2.0e17,6)
(4.6e16,5) (5.6e16,5) (6.8e16,5) (8.3e16,5) (1.0e17,5) (1.2e17,5) (1.45e17,5) (1.75e17,5) (2.1e17,5) (2.5e17,5) (2.7e17,5)
(4.6e16,4) (5.6e16,4) (6.8e16,4) (8.3e16,4) (1.0e17,4) (1.2e17,4) (1.45e17,4) (1.75e17,4) (2.1e17,4) (2.5e17,4) (3.0e17,4) (3.6e17,4) (4.3e17,4) (4.6e17,4)
(4.6e16,3) (5.6e16,3) (6.8e16,3) (8.3e16,3) (1.0e17,3) (1.2e17,3) (1.45e17,3) (1.75e17,3) (2.1e17,3) (2.5e17,3) (3.0e17,3) (3.6e17,3) (4.3e17,3) (5.2e17,3) (6.2e17,3) (7.4e17,3) (8.9e17,3)
(4.6e16,2) (5.6e16,2) (6.8e16,2) (8.3e16,2) (1.0e17,2) (1.2e17,2) (1.45e17,2) (1.75e17,2) (2.1e17,2) (2.5e17,2) (3.0e17,2) (3.6e17,2) (4.3e17,2) (5.2e17,2) (6.2e17,2) (7.4e17,2) (8.9e17,2) (1.05e18,2) (1.15e18,2) (1.4e18,2) (1.6e18,2) (2.2e18,2) (4.9e18,2)
(5.0e16,1) (6.2e16,1) (7.6e16,1) (9.3e16,1) (1.13e17,1) (1.4e17,1) (1.7e17,1) (2.0e17,1) (2.4e17,1) (2.9e17,1) (3.5e17,1) (4.2e17,1) (5.0e17,1) (6.0e17,1) (7.2e17,1) (8.6e17,1) (1.03e18,1) (1.25e18,1) (1.5e18,1) (1.8e18,1) (2.2e18,1) (2.6e18,1) (3.1e18,1) (3.7e18,1) (4.5e18,1) (5.4e18,1) (6.4e18,1) (7.7e18,1) (8.9e18,1)
};
\end{axis}
\end{tikzpicture}
\end{document}
